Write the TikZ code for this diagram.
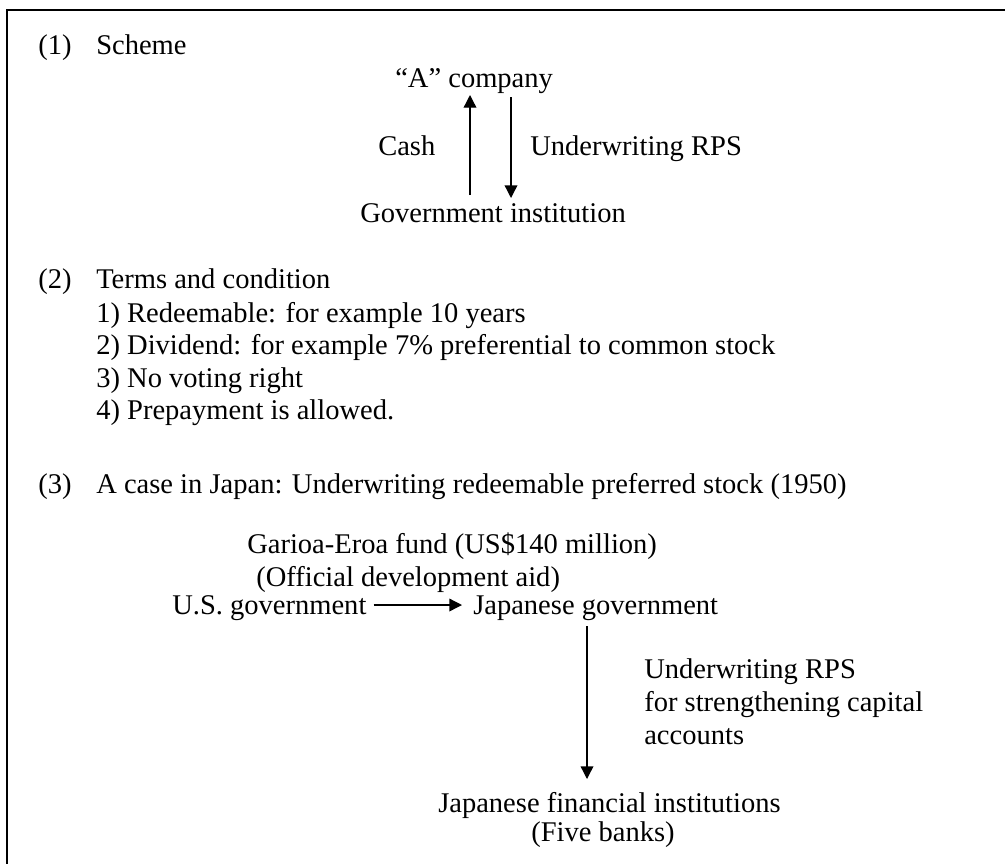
\documentclass[tikz,border=0pt]{standalone}
\usepackage{fontspec}
\setmainfont{Liberation Serif}
\usetikzlibrary{arrows.meta}
\begin{document}
\begin{tikzpicture}[x=0.75pt,y=-0.75pt,
  txt/.style={anchor=base west,inner sep=0pt,font=\fontsize{21.4}{25}\selectfont},
  flow/.style={line width=1pt,-{Triangle[length=9.5pt,width=9.5pt]}},
  frame/.style={line width=1.5pt}]
\useasboundingbox (0,0) rectangle (1005,864);
% frame (top and left edges only)
\coordinate (fc) at (7,9.5);
\coordinate (fr) at (1005,9.5);
\coordinate (fb) at (7,864);
\draw[frame] (fr) -- (fc) -- (fb);
% (1) Scheme
\node[txt] (n1) at (38,54) {(1)};
\node[txt] (s1) at (96,54) {Scheme};
\node[txt] (acomp) at (395,87) {“A” company};
\node[txt] (cash) at (378,155) {Cash};
\node[txt] (uw1) at (530,155) {Underwriting RPS};
\node[txt] (gov) at (360,222) {Government institution};
\coordinate (u1) at (470,195);
\coordinate (u2) at (470,95);
\coordinate (d1) at (511,97);
\coordinate (d2) at (511,198);
\draw[flow] (u1) -- (u2);
\draw[flow] (d1) -- (d2);
% (2) Terms
\node[txt] (n2) at (38,288) {(2)};
\node[txt] (s2) at (96,288) {Terms and condition};
\node[txt] (t1) at (96,322) {1) Redeemable: for example 10 years};
\node[txt] (t2) at (96,354) {2) Dividend: for example 7\% preferential to common stock};
\node[txt] (t3) at (96,387) {3) No voting right};
\node[txt] (t4) at (96,419) {4) Prepayment is allowed.};
% (3) Case in Japan
\node[txt] (n3) at (38,493) {(3)};
\node[txt] (s3) at (96,493) {A case in Japan: Underwriting redeemable preferred stock (1950)};
\node[txt] (gar) at (247,553) {Garioa-Eroa fund (US\$140 million)};
\node[txt] (oda) at (256,586) {(Official development aid)};
\node[txt] (us) at (172,614) {U.S. government};
\node[txt] (jp) at (473,614) {Japanese government};
\draw[flow,shorten <=5.25pt,shorten >=8.25pt] (us.east |- 0,605) -- (jp.west |- 0,605);
\node[txt] (r1) at (644,678) {Underwriting RPS};
\node[txt] (r2) at (644,711) {for strengthening capital};
\node[txt] (r3) at (644,744) {accounts};
\coordinate (v1) at (587,626);
\coordinate (v2) at (587,779);
\draw[flow] (v1) -- (v2);
\node[txt] (fin) at (438,812) {Japanese financial institutions};
\node[txt] (five) at (531,841) {(Five banks)};
\end{tikzpicture}
\end{document}
